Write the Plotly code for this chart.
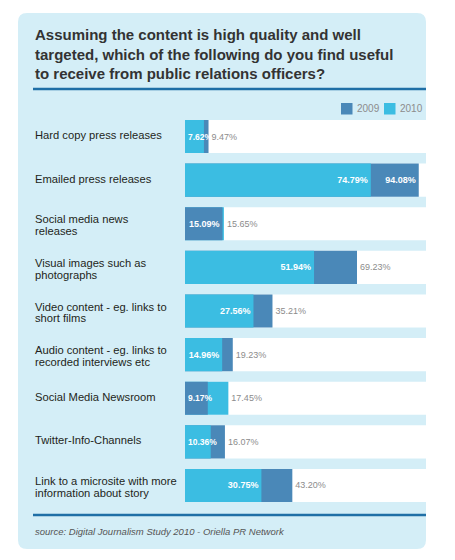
import plotly.graph_objects as go

# ---------------- data ----------------
categories = [
    "Hard copy press releases",
    "Emailed press releases",
    "Social media news\nreleases",
    "Visual images such as\nphotographs",
    "Video content - eg. links to\nshort films",
    "Audio content - eg. links to\nrecorded interviews etc",
    "Social Media Newsroom",
    "Twitter-Info-Channels",
    "Link to a microsite with more\ninformation about story",
]
values_2009 = [9.47, 94.08, 15.09, 69.23, 35.21, 19.23, 9.17, 16.07, 43.20]
values_2010 = [7.62, 74.79, 15.65, 51.94, 27.56, 14.96, 17.45, 10.36, 30.75]
series_names = ["2009", "2010"]
title_text = ("Assuming the content is high quality and well<br>"
              "targeted, which of the following do you find useful<br>"
              "to receive from public relations officers?")
source_text = "source: Digital Journalism Study 2010 - Oriella PR Network"

# ---------------- style ----------------
W, H = 455, 560
C2009 = "#4a88b8"
C2010 = "#3bbde2"
PANEL = "#d4eef7"
RULE = "#1f6fa6"
LABEL_FONT = "Liberation Sans, Arial, sans-serif"
NARROW = "Liberation Sans Narrow, Liberation Sans, Arial, sans-serif"
NUM_SIZE = 9
NUM_SIZE_SMALL = 8.5


def fx(x):
    return x / W


def fy(y):
    return 1 - y / H


cat_keys = [c.replace("\n", " ") for c in categories]
n = len(cat_keys)

# larger value drawn behind, smaller in front
back_vals, back_cols, front_vals, front_cols = [], [], [], []
for a, b in zip(values_2009, values_2010):
    if a >= b:
        back_vals.append(a); back_cols.append(C2009)
        front_vals.append(b); front_cols.append(C2010)
    else:
        back_vals.append(b); back_cols.append(C2010)
        front_vals.append(a); front_cols.append(C2009)
back_pos = ["inside" if (bv - fv) > 18 else "outside" for bv, fv in zip(back_vals, front_vals)]
narrow = [fv < 12 for fv in front_vals]

fig = go.Figure()
fig.add_trace(go.Bar(
    orientation="h", y=cat_keys, x=back_vals,
    marker=dict(color=back_cols, line=dict(width=0)),
    text=[f"{v:.2f}%" for v in back_vals], textposition=back_pos,
    insidetextanchor="end", constraintext="none", textangle=0,
    insidetextfont=dict(color="white", family=NARROW, size=NUM_SIZE, weight="bold"),
    outsidetextfont=dict(color="#8c8c8c", family=NARROW, size=NUM_SIZE),
    cliponaxis=False, showlegend=False, hoverinfo="x+y",
))
for want_narrow, anchor, fs in ((False, "end", NUM_SIZE), (True, "start", NUM_SIZE_SMALL)):
    xs = [v if nw == want_narrow else None for v, nw in zip(front_vals, narrow)]
    fig.add_trace(go.Bar(
        orientation="h", y=cat_keys, x=xs,
        marker=dict(color=front_cols, line=dict(width=0)),
        text=[f"{v:.2f}%" if v is not None else "" for v in xs], textposition="inside",
        insidetextanchor=anchor, constraintext="none", textangle=0,
        insidetextfont=dict(color="white", family=NARROW, size=fs, weight="bold"),
        cliponaxis=False, showlegend=False, hoverinfo="x+y",
    ))

# ---------------- shapes ----------------
shapes = []
# rounded panel
x0, y0, x1, y1, r = 18, 13, 426, 549, 9
path = (f"M {fx(x0 + r)} {fy(y0)} L {fx(x1 - r)} {fy(y0)} Q {fx(x1)} {fy(y0)} {fx(x1)} {fy(y0 + r)} "
        f"L {fx(x1)} {fy(y1 - r)} Q {fx(x1)} {fy(y1)} {fx(x1 - r)} {fy(y1)} "
        f"L {fx(x0 + r)} {fy(y1)} Q {fx(x0)} {fy(y1)} {fx(x0)} {fy(y1 - r)} "
        f"L {fx(x0)} {fy(y0 + r)} Q {fx(x0)} {fy(y0)} {fx(x0 + r)} {fy(y0)} Z")
shapes.append(dict(type="path", path=path, xref="paper", yref="paper",
                   fillcolor=PANEL, line=dict(width=0), layer="below"))
# white row bands
half = (1 - 0.243) / 2
for i in range(n):
    shapes.append(dict(type="rect", xref="paper", yref="y",
                       x0=fx(185), x1=fx(426), y0=i - half, y1=i + half,
                       fillcolor="white", line=dict(width=0), layer="below"))
# rules
for yy in (89, 515):
    shapes.append(dict(type="line", xref="paper", yref="paper",
                       x0=fx(33), x1=fx(426), y0=fy(yy), y1=fy(yy),
                       line=dict(color=RULE, width=2.5)))
# legend squares
for (lx, col) in ((341, C2009), (384, C2010)):
    shapes.append(dict(type="rect", xref="paper", yref="paper",
                       x0=fx(lx), x1=fx(lx + 11.5), y0=fy(103), y1=fy(114.5),
                       fillcolor=col, line=dict(width=0)))

# ---------------- annotations ----------------
ann = []
ann.append(dict(text=title_text, x=fx(33), y=fy(54.5), xref="paper", yref="paper",
                xanchor="left", yanchor="middle", align="left", showarrow=False,
                font=dict(family=LABEL_FONT, size=15, color="#333333", weight="bold")))
for name, lx in zip(series_names, (355, 398)):
    ann.append(dict(text=name, x=fx(lx), y=fy(109), xref="paper", yref="paper",
                    xanchor="left", yanchor="middle", showarrow=False,
                    font=dict(family=NARROW, size=10, color="#8c8c8c")))
for i, lab in enumerate(categories):
    lines = lab.split("\n")
    k = len(lines)
    for j, ln in enumerate(lines):
        shift = (-(j - (k - 1) / 2) * 11.8) - (1.5 if k > 1 else -1.5)
        ann.append(dict(text=ln, x=fx(33), y=cat_keys[i], xref="paper", yref="y",
                        xanchor="left", yanchor="middle", showarrow=False, yshift=shift,
                        font=dict(family=LABEL_FONT, size=11.2, color="#231f20")))
ann.append(dict(text=f"<i>{source_text}</i>", x=fx(33), y=fy(531), xref="paper", yref="paper",
                xanchor="left", yanchor="middle", showarrow=False,
                font=dict(family=LABEL_FONT, size=9.5, color="#555555")))

fig.update_layout(
    width=W, height=H, margin=dict(l=0, r=0, t=0, b=0),
    paper_bgcolor="white", plot_bgcolor="rgba(0,0,0,0)",
    barmode="overlay", bargap=0.243,
    xaxis=dict(domain=[fx(185), fx(426)], range=[0, 97], showgrid=False,
               zeroline=False, showticklabels=False, showline=False, fixedrange=True),
    yaxis=dict(domain=[fy(507.3), fy(114.7)], type="category", categoryorder="array",
               categoryarray=cat_keys, range=[n - 0.5, -0.5], showgrid=False,
               zeroline=False, showticklabels=False, showline=False, fixedrange=True),
    shapes=shapes, annotations=ann, showlegend=False,
)

fig.write_html("out.html")
